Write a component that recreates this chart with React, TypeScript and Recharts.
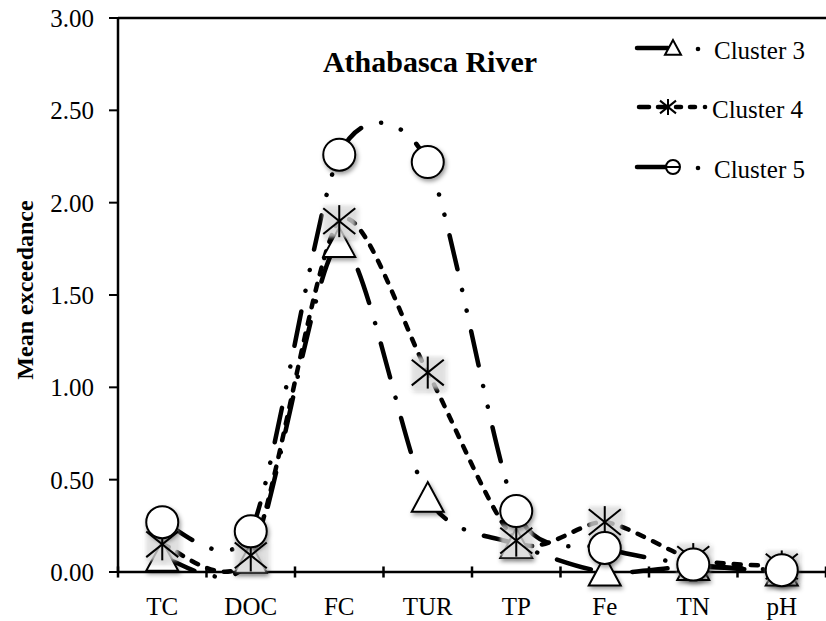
import React from 'react';
import { LineChart, Line, XAxis, YAxis, ReferenceLine, Legend } from 'recharts';

const categories = ['TC', 'DOC', 'FC', 'TUR', 'TP', 'Fe', 'TN', 'pH'];
const cluster3 = [0.08, 0.07, 1.78, 0.4, 0.15, 0.0, 0.03, 0.0];
const cluster4 = [0.15, 0.09, 1.9, 1.08, 0.17, 0.27, 0.07, 0.03];
const cluster5 = [0.27, 0.22, 2.26, 2.22, 0.33, 0.13, 0.04, 0.01];
const yTicks = [0, 0.5, 1, 1.5, 2, 2.5, 3];

const data = categories.map((name, i) => ({
  name,
  x: i + 0.5,
  c3: cluster3[i],
  c4: cluster4[i],
  c5: cluster5[i],
}));
const labelTicks = categories.map((_, i) => i + 0.5);
const boundaries = [...categories.map((_, i) => i), categories.length];

const FONT = '"Liberation Serif", "Times New Roman", serif';

// excel-like smoothed line (bezier through the points)
const excelSmooth = (context: any) => {
  let pts: number[][] = [];
  return {
    areaStart() {},
    areaEnd() {},
    lineStart() {
      pts = [];
    },
    point(x: number, y: number) {
      pts.push([x, y]);
    },
    lineEnd() {
      const n = pts.length;
      if (!n) return;
      context.moveTo(pts[0][0], pts[0][1]);
      const k = 0.13;
      for (let i = 0; i < n - 1; i++) {
        const p0 = pts[Math.max(i - 1, 0)];
        const p1 = pts[i];
        const p2 = pts[i + 1];
        const p3 = pts[Math.min(i + 2, n - 1)];
        context.bezierCurveTo(
          p1[0] + (p2[0] - p0[0]) * k,
          p1[1] + (p2[1] - p0[1]) * k,
          p2[0] - (p3[0] - p1[0]) * k,
          p2[1] - (p3[1] - p1[1]) * k,
          p2[0],
          p2[1]
        );
      }
    },
  };
};

const Triangle = ({ cx, cy, s = 16 }: any) => (
  <polygon
    points={`${cx},${cy - s} ${cx - s},${cy + s * 0.85} ${cx + s},${cy + s * 0.85}`}
    fill="#fff"
    stroke="#000"
    strokeWidth={2}
  />
);

const Star = ({ cx, cy, s = 16, bg = true }: any) => (
  <g>
    {bg && <rect x={cx - s} y={cy - s} width={s * 2} height={s * 2} fill="#e2e2e2" opacity={0.7} filter="url(#blurBg)" />}
    <line x1={cx - s} y1={cy - s * 0.8} x2={cx + s} y2={cy + s * 0.8} stroke="#000" strokeWidth={2} />
    <line x1={cx - s} y1={cy + s * 0.8} x2={cx + s} y2={cy - s * 0.8} stroke="#000" strokeWidth={2} />
    <line x1={cx} y1={cy - s} x2={cx} y2={cy + s} stroke="#000" strokeWidth={2} />
  </g>
);

const Ring = ({ cx, cy, r = 16 }: any) => (
  <circle cx={cx} cy={cy} r={r} fill="#fff" stroke="#000" strokeWidth={2} />
);

const triDot = (p: any) => (
  <g key={`t-${p.index}`} filter="url(#mShadow)">
    <Triangle cx={p.cx} cy={p.cy} />
  </g>
);
const starDot = (p: any) => (
  <g key={`s-${p.index}`} filter="url(#mShadow)">
    <Star cx={p.cx} cy={p.cy} />
  </g>
);
const ringDot = (p: any) => (
  <g key={`r-${p.index}`} filter="url(#mShadow)">
    <Ring cx={p.cx} cy={p.cy} />
  </g>
);

const legendText = { fontFamily: FONT, fontSize: 25, fill: '#000' };

const LegendBox = () => (
  <svg width={196} height={170} style={{ overflow: 'visible' }}>
    {/* Cluster 3 */}
    <line x1={7} y1={28} x2={38} y2={28} stroke="#000" strokeWidth={4.5} strokeLinecap="round" />
    <Triangle cx={43} cy={28} s={8} />
    <circle cx={68} cy={29} r={2.3} fill="#000" />
    <text x={84} y={39} {...legendText}>Cluster 3</text>
    {/* Cluster 4 */}
    <line x1={9} y1={87} x2={19} y2={87} stroke="#000" strokeWidth={4.5} strokeLinecap="round" />
    <line x1={28} y1={87} x2={36} y2={87} stroke="#000" strokeWidth={4.5} strokeLinecap="round" />
    <Star cx={38} cy={87} s={8} bg={false} />
    <line x1={46} y1={87} x2={51} y2={87} stroke="#000" strokeWidth={4.5} strokeLinecap="round" />
    <line x1={60} y1={87} x2={65} y2={87} stroke="#000" strokeWidth={4.5} strokeLinecap="round" />
    <circle cx={75} cy={87} r={2.3} fill="#000" />
    <text x={82} y={98} {...legendText}>Cluster 4</text>
    {/* Cluster 5 */}
    <line x1={7} y1={147} x2={38} y2={147} stroke="#000" strokeWidth={4.5} strokeLinecap="round" />
    <Ring cx={43} cy={147} r={7} />
    <line x1={37} y1={147} x2={49} y2={147} stroke="#000" strokeWidth={2} />
    <circle cx={68} cy={148} r={2.3} fill="#000" />
    <text x={84} y={158} {...legendText}>Cluster 5</text>
  </svg>
);

export default function App() {
  const tickStyle = { fill: '#000', fontSize: 25, fontFamily: FONT };
  return (
    <div style={{ position: 'absolute', left: 0, top: 0, width: 826, height: 621, background: '#fff' }}>
      <svg width={0} height={0} style={{ position: 'absolute' }}>
        <defs>
          <filter id="mShadow" x="-50%" y="-50%" width="200%" height="200%">
            <feDropShadow dx={1.5} dy={2.5} stdDeviation={2} floodColor="#000" floodOpacity={0.4} />
          </filter>
          <filter id="blurBg" x="-20%" y="-20%" width="140%" height="140%">
            <feGaussianBlur stdDeviation={1.5} />
          </filter>
        </defs>
      </svg>
      <LineChart width={826} height={621} data={data} margin={{ top: 18, right: 0, left: 0, bottom: 0 }}>
        <XAxis
          dataKey="x"
          type="number"
          domain={[0, categories.length]}
          ticks={labelTicks}
          tickFormatter={(v: number) => categories[Math.floor(v)]}
          tickLine={false}
          tickSize={6}
          tickMargin={19}
          axisLine={{ stroke: '#000', strokeWidth: 2.5 }}
          tick={tickStyle}
          height={49}
          interval={0}
        />
        <YAxis
          domain={[0, 3]}
          ticks={yTicks}
          tickFormatter={(v: number) => v.toFixed(2)}
          width={118}
          tickSize={9}
          tickMargin={15}
          axisLine={{ stroke: '#000', strokeWidth: 2.5 }}
          tickLine={{ stroke: '#000', strokeWidth: 2 }}
          tick={tickStyle}
          interval={0}
          label={() => (
            <text
              x={25}
              y={290}
              transform="rotate(-90 25 290)"
              textAnchor="middle"
              dominantBaseline="central"
              style={{ fontFamily: FONT, fontSize: 24, fontWeight: 'bold', fill: '#000' }}
            >
              Mean exceedance
            </text>
          )}
        />
        <ReferenceLine y={3} stroke="#000" strokeWidth={2.5} ifOverflow="visible" />
        {boundaries.map((b) => (
          <ReferenceLine
            key={`b-${b}`}
            segment={[
              { x: b, y: -0.03 },
              { x: b, y: 0.03 },
            ]}
            stroke="#000"
            strokeWidth={2.5}
            ifOverflow="visible"
          />
        ))}
        <Legend
          layout="vertical"
          align="center"
          verticalAlign="middle"
          content={() => <LegendBox />}
          wrapperStyle={{ left: 630, top: 20, width: 196, height: 170 }}
        />
        <Line
          dataKey="c3"
          name="Cluster 3"
          type={excelSmooth as any}
          stroke="#000"
          strokeWidth={4.5}
          strokeLinecap="round"
          strokeDasharray="35 21 0.1 21"
          dot={triDot}
          activeDot={false}
          isAnimationActive={false}
        />
        <Line
          dataKey="c4"
          name="Cluster 4"
          type={excelSmooth as any}
          stroke="#000"
          strokeWidth={4.5}
          strokeLinecap="round"
          strokeDasharray="7 10"
          dot={starDot}
          activeDot={false}
          isAnimationActive={false}
        />
        <Line
          dataKey="c5"
          name="Cluster 5"
          type={excelSmooth as any}
          stroke="#000"
          strokeWidth={4.5}
          strokeLinecap="round"
          strokeDasharray="35 21 0.1 21 0.1 21"
          dot={ringDot}
          activeDot={false}
          isAnimationActive={false}
        />
      </LineChart>
      <div
        style={{
          position: 'absolute',
          left: 230,
          top: 44,
          width: 400,
          textAlign: 'center',
          fontFamily: FONT,
          fontSize: 30,
          fontWeight: 'bold',
          lineHeight: '36px',
          color: '#000',
        }}
      >
        Athabasca River
      </div>
    </div>
  );
}
